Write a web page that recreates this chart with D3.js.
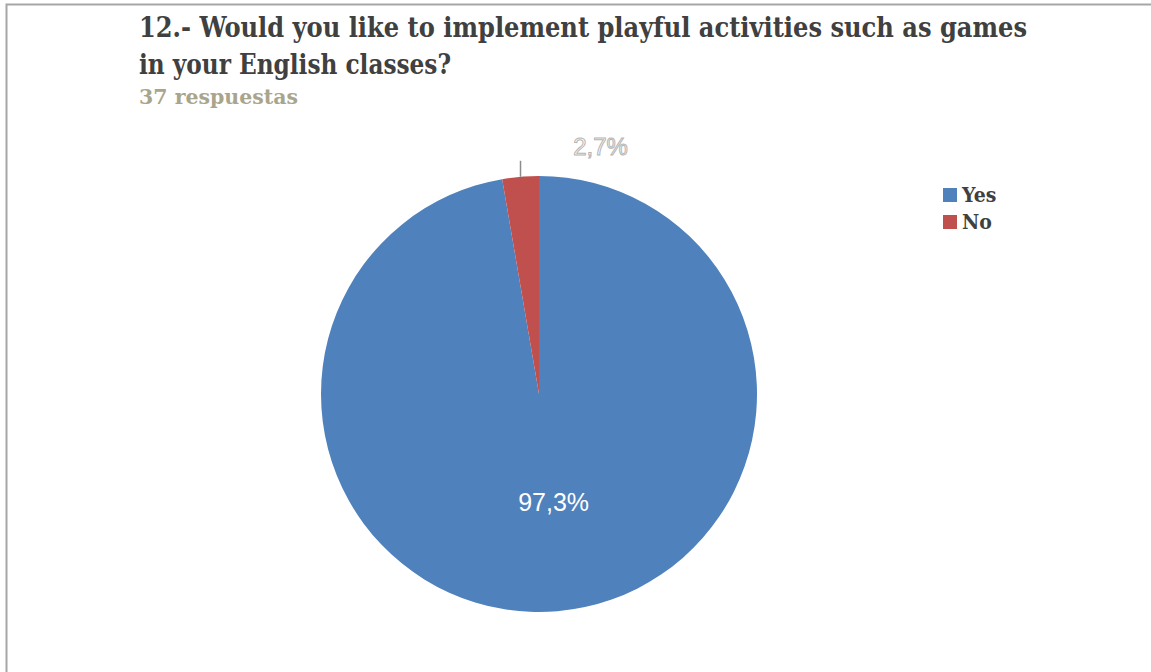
<!DOCTYPE html>
<html>
<head>
<meta charset="utf-8">
<script src="https://cdn.jsdelivr.net/npm/d3@7/dist/d3.min.js"></script>
<style>
  html, body { margin: 0; padding: 0; background: #fff; }
  svg { display: block; }
</style>
</head>
<body>
<svg id="chart" width="1151" height="672"></svg>
<script>
// Survey answers for question 12
const categories = ["Yes", "No"];
const counts = [36, 1];
const percentLabels = ["97,3%", "2,7%"];
const colors = ["#4f81bd", "#c0504d"];

const titleLines = [
  "12.- Would you like to implement playful activities such as games",
  "in your English classes?"
];
const titleWidths = [888, 312];
const subtitle = "37 respuestas";

const svg = d3.select("#chart");
const W = 1151, H = 672;

svg.append("rect").attr("width", W).attr("height", H).attr("fill", "#fff");

// frame (top and left edges)
svg.append("path")
  .attr("d", `M6.5,${H} V4.5 H${W}`)
  .attr("fill", "none").attr("stroke", "#a6a6a6").attr("stroke-width", 2);

// title
const titleFont = "'DejaVu Serif Condensed', 'DejaVu Serif', 'Liberation Serif', serif";
svg.selectAll("text.title").data(titleLines).join("text")
  .attr("class", "title")
  .attr("x", 139)
  .attr("y", (d, i) => 37 + i * 37)
  .attr("font-family", titleFont)
  .attr("font-stretch", "condensed")
  .attr("font-weight", "bold")
  .attr("font-size", 27)
  .attr("fill", "#404040")
  .attr("textLength", (d, i) => titleWidths[i])
  .attr("lengthAdjust", "spacingAndGlyphs")
  .text(d => d);

svg.append("text")
  .attr("x", 139).attr("y", 104)
  .attr("font-family", titleFont)
  .attr("font-stretch", "condensed")
  .attr("font-weight", "bold")
  .attr("font-size", 20)
  .attr("fill", "#a9a58c")
  .attr("textLength", 159).attr("lengthAdjust", "spacingAndGlyphs")
  .text(subtitle);

// pie
const cx = 539, cy = 394, r = 218;
const data = categories.map((c, i) => ({ cat: c, value: counts[i], label: percentLabels[i], color: colors[i] }));

const pie = d3.pie().value(d => d.value).sort(null);
const arcs = pie(data);
const arc = d3.arc().innerRadius(0).outerRadius(r);

const g = svg.append("g").attr("transform", `translate(${cx},${cy})`);
g.selectAll("path.slice").data(arcs).join("path")
  .attr("class", "slice")
  .attr("d", arc)
  .attr("fill", d => d.data.color);

// label inside the large slice
const big = arcs[0];
const bigAngle = (big.startAngle + big.endAngle) / 2;
g.append("text")
  .attr("x", Math.sin(bigAngle) * r * 0.52 + 5)
  .attr("y", -Math.cos(bigAngle) * r * 0.52 - 3)
  .attr("text-anchor", "middle")
  .attr("dominant-baseline", "middle")
  .attr("font-family", "'Liberation Sans', 'Open Sans', sans-serif")
  .attr("font-size", 25)
  .attr("fill", "#ffffff")
  .text(big.data.label);

// small slice: leader line and outlined label
const small = arcs[1];
const smallAngle = (small.startAngle + small.endAngle) / 2;
const lx = Math.sin(smallAngle) * r;
const ly = -Math.cos(smallAngle) * r;
g.append("line")
  .attr("x1", lx).attr("y1", ly)
  .attr("x2", lx).attr("y2", ly - 16)
  .attr("stroke", "#8c8c8c").attr("stroke-width", 1.5);
g.append("text")
  .attr("x", lx + 80)
  .attr("y", ly - 28)
  .attr("text-anchor", "middle")
  .attr("dominant-baseline", "middle")
  .attr("font-family", "'Liberation Sans', sans-serif")
  .attr("font-size", 24)
  .attr("fill", "#ffffff")
  .attr("stroke", "#b4b4b4")
  .attr("stroke-width", 1)
  .text(small.data.label);

// legend
const legend = svg.append("g").attr("transform", "translate(943,188)");
const items = legend.selectAll("g").data(data).join("g")
  .attr("transform", (d, i) => `translate(0,${i * 27})`);
items.append("rect")
  .attr("width", 14).attr("height", 14)
  .attr("fill", d => d.color);
items.append("text")
  .attr("x", 19).attr("y", 8)
  .attr("dominant-baseline", "middle")
  .attr("font-family", titleFont)
  .attr("font-stretch", "condensed")
  .attr("font-weight", "bold")
  .attr("font-size", 21)
  .attr("fill", "#404040")
  .text(d => d.cat);
</script>
</body>
</html>
